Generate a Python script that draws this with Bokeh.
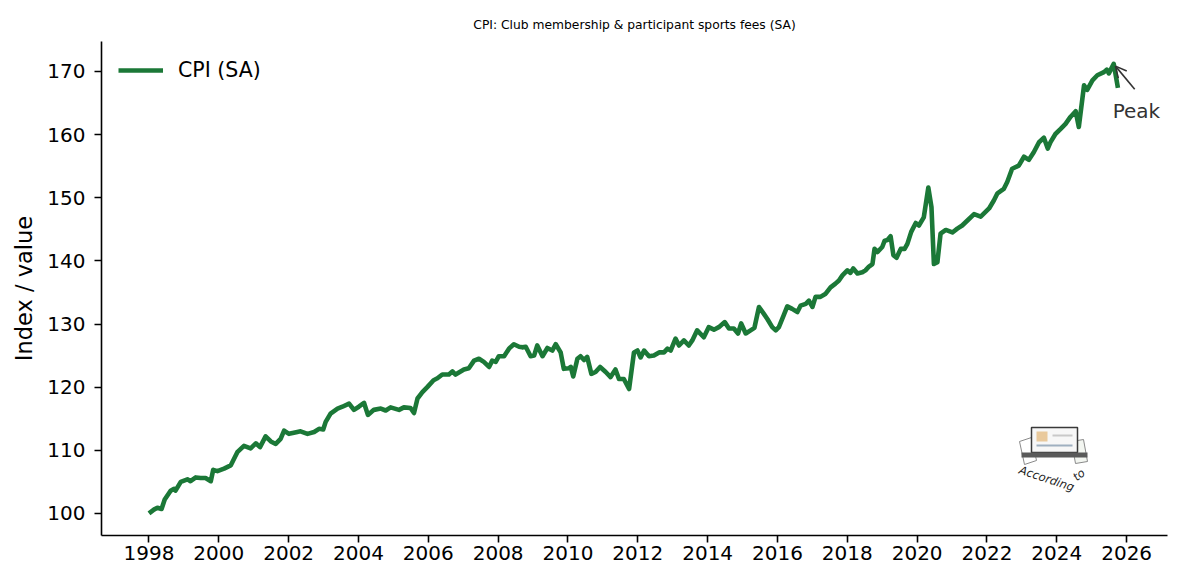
from bokeh.plotting import figure
from bokeh.models import Range1d, FixedTicker, Arrow, OpenHead, Label
from bokeh.core.properties import value
from bokeh.embed import file_html
from bokeh.resources import INLINE

# ---- data ----
years = [
    1998.00, 1998.14, 1998.24, 1998.36, 1998.45, 1998.62, 1998.72, 1998.76, 1998.91,
    1999.10, 1999.19, 1999.34, 1999.48, 1999.62, 1999.77, 1999.84, 1999.96,
    2000.15, 2000.34, 2000.53, 2000.72, 2000.91,
    2001.06, 2001.18, 2001.34, 2001.49, 2001.63, 2001.77, 2001.87,
    2002.01, 2002.25, 2002.34, 2002.54, 2002.73, 2002.87, 2002.99,
    2003.06, 2003.20, 2003.40, 2003.54, 2003.73, 2003.87,
    2004.01, 2004.16, 2004.27, 2004.44, 2004.64, 2004.78, 2004.92,
    2005.16, 2005.30, 2005.49, 2005.59, 2005.69, 2005.83, 2005.97,
    2006.15, 2006.26, 2006.40, 2006.59, 2006.69, 2006.78,
    2007.02, 2007.16, 2007.31, 2007.45, 2007.59, 2007.74, 2007.83, 2007.93,
    2008.02, 2008.17, 2008.31, 2008.45, 2008.60, 2008.69, 2008.79, 2008.93,
    2009.03, 2009.12, 2009.27, 2009.41, 2009.55, 2009.65, 2009.79, 2009.88,
    2010.03, 2010.08, 2010.15, 2010.27, 2010.36, 2010.46, 2010.55, 2010.67, 2010.79, 2010.92,
    2011.08, 2011.22, 2011.36, 2011.46, 2011.60, 2011.75, 2011.89, 2011.99,
    2012.08, 2012.18, 2012.32, 2012.46, 2012.61, 2012.75, 2012.85, 2012.94,
    2013.08, 2013.18, 2013.32, 2013.46, 2013.56, 2013.70, 2013.89,
    2014.03, 2014.18, 2014.32, 2014.49, 2014.61, 2014.75, 2014.87, 2014.96,
    2015.09, 2015.23, 2015.34, 2015.47, 2015.61, 2015.71, 2015.85, 2015.95,
    2016.04, 2016.18, 2016.28, 2016.42, 2016.57, 2016.66, 2016.81, 2016.90,
    2017.00, 2017.09, 2017.23, 2017.38, 2017.52, 2017.66, 2017.76, 2017.86,
    2018.00, 2018.09, 2018.17, 2018.29, 2018.43, 2018.52, 2018.62, 2018.72, 2018.78, 2018.86,
    2019.00, 2019.07, 2019.15, 2019.24, 2019.32, 2019.41, 2019.53, 2019.64, 2019.72, 2019.83, 2019.96,
    2020.05, 2020.19, 2020.32, 2020.41, 2020.48, 2020.58, 2020.67, 2020.82,
    2021.01, 2021.15, 2021.29, 2021.44, 2021.63, 2021.82,
    2022.06, 2022.20, 2022.30, 2022.48, 2022.58, 2022.72, 2022.91,
    2023.06, 2023.20, 2023.34, 2023.49, 2023.63, 2023.74, 2023.82, 2023.96,
    2024.11, 2024.25, 2024.39, 2024.54, 2024.63, 2024.78, 2024.87,
    2025.02, 2025.16, 2025.35, 2025.43, 2025.49, 2025.63, 2025.75,
]
cpi = [
    100.0, 100.6, 100.9, 100.7, 102.2, 103.6, 103.9, 103.6, 105.0,
    105.4, 105.1, 105.7, 105.6, 105.6, 105.1, 106.9, 106.7,
    107.1, 107.6, 109.7, 110.7, 110.3,
    111.1, 110.5, 112.2, 111.4, 111.0, 111.8, 113.1,
    112.6, 112.9, 113.0, 112.6, 112.9, 113.4, 113.3,
    114.5, 115.8, 116.6, 116.9, 117.4, 116.4,
    116.9, 117.5, 115.6, 116.4, 116.6, 116.3, 116.8,
    116.4, 116.8, 116.7, 115.9, 118.2, 119.2, 120.0,
    121.1, 121.4, 122.0, 122.0, 122.5, 122.0,
    122.8, 123.0, 124.2, 124.5, 124.0, 123.2, 124.2, 124.0,
    124.9, 124.9, 126.1, 126.8, 126.4, 126.3, 126.4, 124.9,
    125.0, 126.6, 124.9, 126.2, 125.8, 126.8, 125.5, 122.9,
    123.0, 123.2, 121.7, 124.5, 124.9, 124.3, 124.8, 122.1, 122.4, 123.2,
    122.4, 121.6, 122.8, 121.3, 121.3, 119.7, 125.5, 125.8,
    124.7, 125.8, 124.9, 125.0, 125.5, 125.5, 126.1, 125.8,
    127.7, 126.6, 127.4, 126.6, 127.4, 129.0, 127.9,
    129.5, 129.1, 129.5, 130.3, 129.3, 129.3, 128.5, 130.1,
    128.5, 129.0, 129.4, 132.7, 131.6, 130.8, 129.5, 129.0,
    129.5, 131.4, 132.8, 132.4, 131.9, 132.9, 133.2, 133.7,
    132.7, 134.3, 134.3, 134.8, 135.8, 136.4, 136.9, 137.7,
    138.5, 138.1, 138.8, 138.0, 138.2, 138.5, 139.1, 139.5, 141.9, 141.4,
    142.2, 143.2, 143.3, 143.9, 140.9, 140.5, 141.9, 141.9, 142.7, 144.6, 146.0,
    145.6, 146.9, 151.6, 148.5, 139.5, 139.8, 144.3, 144.9,
    144.5, 145.1, 145.6, 146.4, 147.4, 147.0,
    148.3, 149.6, 150.7, 151.4, 152.5, 154.6, 155.1,
    156.5, 156.0, 157.2, 158.8, 159.5, 157.8, 158.8, 160.1,
    160.9, 161.7, 162.8, 163.7, 161.2, 167.8, 167.1,
    168.6, 169.4, 169.9, 170.3, 169.7, 171.2, 167.4,
]
x_ticks = list(range(1998, 2027, 2))
y_ticks = list(range(100, 171, 10))
title_text = "CPI: Club membership & participant sports fees (SA)"
series_label = "CPI (SA)"
y_label = "Index / value"
peak_label = "Peak"

GREEN = "#1b7837"
FONT = "DejaVu Sans"

x_lo, x_hi = 1996.64, 2027.17
y_lo, y_hi = 96.5, 174.75

p = figure(width=1168, height=569, output_backend="svg", toolbar_location=None,
           x_range=Range1d(x_lo, x_hi), y_range=Range1d(y_lo, y_hi),
           min_border_left=101, min_border_right=1, min_border_top=41,
           min_border_bottom=34)

p.title.text = title_text
p.title.align = "center"
p.title.text_font = FONT
p.title.text_font_size = "12.3px"
p.title.text_font_style = "normal"
p.title.text_color = "#000000"
p.title.standoff = 20

p.grid.visible = False
p.outline_line_color = None
p.background_fill_color = "white"
p.border_fill_color = "white"

for ax in (p.xaxis[0], p.yaxis[0]):
    ax.axis_line_color = "#000000"
    ax.axis_line_width = 1.6
    ax.major_tick_line_color = "#000000"
    ax.major_tick_line_width = 1.6
    ax.major_tick_out = 7
    ax.major_tick_in = 0
    ax.minor_tick_line_color = None
    ax.major_label_text_font = FONT
    ax.major_label_text_font_size = "20px"
    ax.major_label_text_color = "#000000"

p.xaxis.ticker = FixedTicker(ticks=x_ticks)
p.yaxis.ticker = FixedTicker(ticks=y_ticks)
p.xaxis.major_label_standoff = 3
p.yaxis.major_label_standoff = 9
p.yaxis.axis_label = y_label
p.yaxis.axis_label_text_font = FONT
p.yaxis.axis_label_text_font_size = "22.5px"
p.yaxis.axis_label_text_font_style = "normal"
p.yaxis.axis_label_text_color = "#000000"
p.yaxis.axis_label_standoff = 7

p.line(years, cpi, line_color=GREEN, line_width=4.6, line_join="round",
       legend_label=series_label)

lg = p.legend[0]
lg.location = "top_left"
lg.margin = 0
lg.padding = 17
lg.border_line_alpha = 0
lg.background_fill_alpha = 0
lg.glyph_width = 45
lg.glyph_height = 20
lg.label_standoff = 15
lg.label_text_font = FONT
lg.label_text_font_size = "20.5px"
lg.label_text_color = "#000000"

# ---- peak annotation ----
i_peak = max(range(len(cpi)), key=lambda i: cpi[i])
px_, py_ = years[i_peak], cpi[i_peak]
p.add_layout(Arrow(end=OpenHead(size=11, line_color="#333333", line_width=1.6),
                   x_start=px_ + 0.60, y_start=py_ - 4.0,
                   x_end=px_ + 0.05, y_end=py_ - 0.35,
                   line_color="#333333", line_width=1.6))
p.add_layout(Label(x=px_ - 0.03, y=py_ - 7.45, text=peak_label,
                   text_font=FONT, text_font_size="20px",
                   text_color="#333333", text_baseline="alphabetic"))

# ---- small "According to" logo (decoration) ----
def X(px):
    return x_lo + (px - 101) * (x_hi - x_lo) / 1066

def Y(py):
    return y_hi - (py - 41) * (y_hi - y_lo) / 494

p.patch([X(1019), X(1031), X(1036), X(1024)], [Y(441), Y(437), Y(460), Y(464)],
        fill_color="#ffffff", line_color="#8a8a8a", line_width=1)
p.patch([X(1071), X(1083), X(1087), X(1075)], [Y(441), Y(439), Y(461), Y(463)],
        fill_color="#f3f6f1", line_color="#8a8a8a", line_width=1)
p.quad(left=X(1031), right=X(1077), top=Y(427), bottom=Y(452),
       fill_color="#f7f7f7", line_color="#3a3a3a", line_width=1.5)
p.quad(left=X(1036), right=X(1047), top=Y(431), bottom=Y(441),
       fill_color="#e9c99c", line_color=None)
p.quad(left=X(1052), right=X(1072), top=Y(434), bottom=Y(436),
       fill_color="#c9c9c9", line_color=None)
p.quad(left=X(1036), right=X(1072), top=Y(444), bottom=Y(446),
       fill_color="#9fb0c0", line_color=None)
p.quad(left=X(1021), right=X(1087), top=Y(452), bottom=Y(457),
       fill_color="#5a5a5a", line_color=None)
p.text(x=[X(1019)], y=[Y(469)], text=["According"], angle=-0.32,
       text_font=value(FONT), text_font_size="11.5px", text_color="#222222",
       text_baseline="middle", text_font_style="italic")
p.text(x=[X(1074)], y=[Y(478)], text=["to"], angle=0.7,
       text_font=value(FONT), text_font_size="11.5px", text_color="#222222",
       text_baseline="middle", text_font_style="italic")

open("out.html", "w").write(file_html(p, INLINE))
